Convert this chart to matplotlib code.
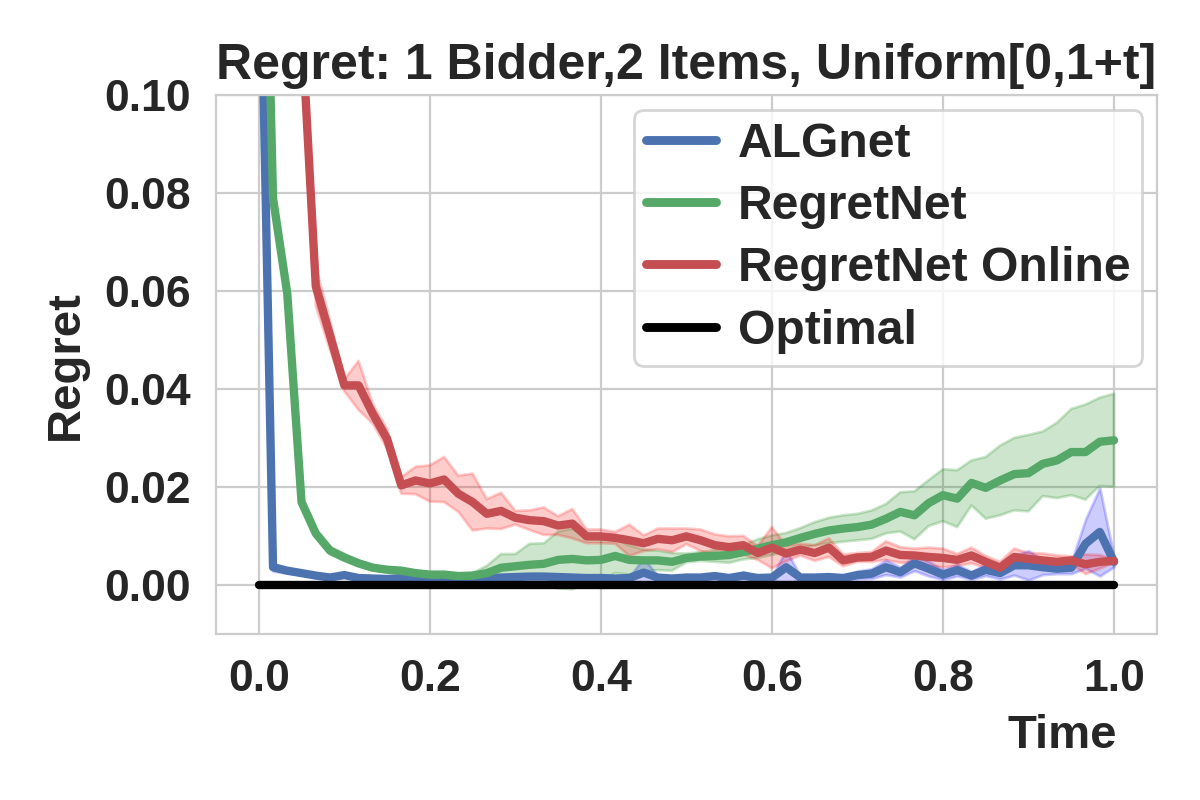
import numpy as np
import matplotlib
matplotlib.use("Agg")
import matplotlib.pyplot as plt
import seaborn as sns

# Data: 61 time steps from 0 to 1
time = np.linspace(0, 1, 61)

algnet_mean = [0.150, 0.0037, 0.0030, 0.0025, 0.0020, 0.0016, 0.0021, 0.0015, 0.0014, 0.0013,
               0.0015, 0.0013, 0.0012, 0.0013, 0.0014, 0.0014, 0.0014, 0.0016, 0.0017, 0.0018,
               0.0018, 0.0017, 0.0016, 0.0015, 0.0015, 0.0014, 0.0015, 0.0026, 0.0016, 0.0014,
               0.0016, 0.0016, 0.0019, 0.0015, 0.0020, 0.0015, 0.0016, 0.0037, 0.0016, 0.0016,
               0.0017, 0.0015, 0.0021, 0.0024, 0.0037, 0.0027, 0.0045, 0.0034, 0.0022, 0.0031,
               0.0020, 0.0032, 0.0025, 0.0041, 0.0041, 0.0037, 0.0034, 0.0036, 0.0085, 0.0109,
               0.0048]
algnet_std = [0.005, 0.0008, 0.0005, 0.0003, 0.0003, 0.0003, 0.0003, 0.0003, 0.0003, 0.0003,
              0.0003, 0.0003, 0.0003, 0.0003, 0.0003, 0.0003, 0.0003, 0.0003, 0.0003, 0.0003,
              0.0003, 0.0003, 0.0003, 0.0003, 0.0003, 0.0003, 0.0003, 0.0030, 0.0003, 0.0003,
              0.0003, 0.0003, 0.0005, 0.0003, 0.0007, 0.0003, 0.0003, 0.0035, 0.0003, 0.0003,
              0.0003, 0.0003, 0.0008, 0.0010, 0.0015, 0.0010, 0.0015, 0.0015, 0.0010, 0.0012,
              0.0008, 0.0012, 0.0012, 0.0020, 0.0030, 0.0015, 0.0010, 0.0012, 0.0050, 0.0090,
              0.0010]

regretnet_mean = [0.200, 0.0790, 0.0595, 0.0170, 0.0106, 0.0071, 0.0057, 0.0045, 0.0036, 0.0032,
                  0.0030, 0.0025, 0.0022, 0.0022, 0.0019, 0.0020, 0.0025, 0.0036, 0.0039, 0.0042,
                  0.0044, 0.0052, 0.0054, 0.0051, 0.0052, 0.0060, 0.0052, 0.0051, 0.0051, 0.0048,
                  0.0056, 0.0059, 0.0060, 0.0062, 0.0068, 0.0075, 0.0082, 0.0088, 0.0097, 0.0105,
                  0.0112, 0.0116, 0.0119, 0.0124, 0.0136, 0.0150, 0.0143, 0.0168, 0.0184, 0.0177,
                  0.0209, 0.0199, 0.0214, 0.0227, 0.0229, 0.0248, 0.0255, 0.0272, 0.0272, 0.0293,
                  0.0296]
regretnet_std = [0.003, 0.0020, 0.0010, 0.0008, 0.0008, 0.0008, 0.0007, 0.0006, 0.0005, 0.0005,
                 0.0004, 0.0004, 0.0003, 0.0003, 0.0003, 0.0005, 0.0015, 0.0028, 0.0025, 0.0043,
                 0.0042, 0.0058, 0.0062, 0.0045, 0.0042, 0.0035, 0.0030, 0.0022, 0.0020, 0.0018,
                 0.0009, 0.0009, 0.0012, 0.0016, 0.0015, 0.0019, 0.0020, 0.0019, 0.0020, 0.0024,
                 0.0026, 0.0027, 0.0027, 0.0029, 0.0030, 0.0040, 0.0049, 0.0047, 0.0053, 0.0058,
                 0.0046, 0.0063, 0.0071, 0.0074, 0.0078, 0.0066, 0.0077, 0.0088, 0.0097, 0.0090,
                 0.0095]

online_mean = [0.450, 0.300, 0.200, 0.115, 0.0610, 0.0510, 0.0408, 0.0408, 0.0350, 0.0299,
               0.0204, 0.0214, 0.0208, 0.0216, 0.0187, 0.0170, 0.0146, 0.0152, 0.0138, 0.0133,
               0.0131, 0.0122, 0.0126, 0.0100, 0.0100, 0.0097, 0.0092, 0.0086, 0.0095, 0.0092,
               0.0100, 0.0092, 0.0082, 0.0078, 0.0082, 0.0066, 0.0077, 0.0065, 0.0073, 0.0066,
               0.0077, 0.0051, 0.0057, 0.0058, 0.0071, 0.0062, 0.0061, 0.0058, 0.0056, 0.0052,
               0.0061, 0.0048, 0.0036, 0.0058, 0.0054, 0.0051, 0.0048, 0.0051, 0.0043, 0.0048,
               0.0050]
online_std = [0.010, 0.010, 0.010, 0.003, 0.0040, 0.0030, 0.0012, 0.0050, 0.0020, 0.0020,
              0.0017, 0.0028, 0.0037, 0.0046, 0.0037, 0.0058, 0.0030, 0.0037, 0.0014, 0.0020,
              0.0028, 0.0019, 0.0030, 0.0014, 0.0014, 0.0012, 0.0032, 0.0016, 0.0021, 0.0024,
              0.0016, 0.0022, 0.0022, 0.0022, 0.0019, 0.0014, 0.0042, 0.0016, 0.0012, 0.0016,
              0.0019, 0.0012, 0.0009, 0.0010, 0.0019, 0.0016, 0.0014, 0.0019, 0.0019, 0.0012,
              0.0016, 0.0012, 0.0012, 0.0017, 0.0012, 0.0014, 0.0013, 0.0008, 0.0020, 0.0014,
              0.0004]

optimal = np.zeros(len(time))

# style
sns.set_style("whitegrid")
plt.rcParams['font.family'] = ['Liberation Sans', 'DejaVu Sans']
plt.rcParams['font.weight'] = 'bold'
plt.rcParams['axes.labelweight'] = 'bold'
plt.rcParams['axes.titleweight'] = 'bold'

fig, ax = plt.subplots(figsize=(6, 4), dpi=200)
fig.subplots_adjust(left=0.18, right=0.964, top=0.881, bottom=0.207)

series = [
    ("ALGnet", algnet_mean, algnet_std, "#4c72b0", "blue"),
    ("RegretNet", regretnet_mean, regretnet_std, "#55a868", "green"),
    ("RegretNet Online", online_mean, online_std, "#c44e52", "red"),
]
for name, mean, std, lc, fc in series:
    mean = np.array(mean)
    std = np.array(std)
    ax.plot(time, mean, color=lc, lw=3, label=name, solid_capstyle='round')
    ax.fill_between(time, mean - std, mean + std, color=fc, alpha=0.2)

ax.plot(time, optimal, color="black", lw=3, label="Optimal", solid_capstyle='round')

ax.set_ylim(-0.01, 0.10)
ax.set_xlim(-0.05, 1.05)
ax.set_yticks([0.00, 0.02, 0.04, 0.06, 0.08, 0.10])
ax.set_xticks([0.0, 0.2, 0.4, 0.6, 0.8, 1.0])
ax.tick_params(labelsize=16, length=0, pad=9)

ax.set_title("Regret: 1 Bidder,2 Items, Uniform[0,1+t]", fontsize=18, pad=6)
ax.set_ylabel("Regret", fontsize=17, labelpad=6)
ax.set_xlabel("Time", fontsize=17, ha='right')
ax.xaxis.set_label_coords(0.958, -0.148)

leg = ax.legend(loc='upper right', fontsize=17.3, handlelength=1.45, handletextpad=0.45,
                labelspacing=0.36, borderaxespad=0.3, borderpad=0.25, framealpha=0.8)
for line in leg.get_lines():
    line.set_linewidth(3.2)

plt.savefig("out.png", dpi=200)
